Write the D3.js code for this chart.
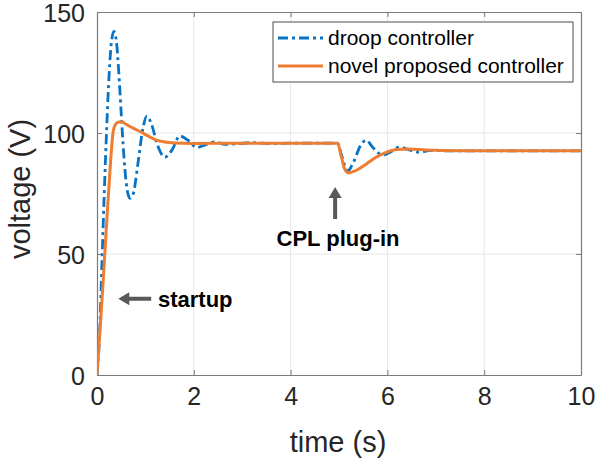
<!DOCTYPE html>
<html lang="en">
<head>
  <meta charset="UTF-8">
  <title>voltage vs time</title>
  <script src="https://d3js.org/d3.v7.min.js"></script>
  <style>
    html, body {
      margin: 0;
      padding: 0;
      background: #fff;
    }
    svg {
      display: block;
      font-family: "Liberation Sans", Arial, sans-serif;
    }
  </style>
</head>
<body>
  <div id="chart"></div>
  <script>
    // values
    var tDroop = [0, 0.05, 0.1, 0.15, 0.2, 0.25, 0.3, 0.35, 0.4, 0.45, 0.5, 0.55, 0.6, 0.68, 0.75, 0.85, 0.95, 1.03, 1.12, 1.25, 1.4, 1.55, 1.71, 1.88, 2.06, 2.25, 2.43, 2.65, 2.9, 3.2, 3.6, 4.0, 4.5, 4.97, 5.05, 5.18, 5.3, 5.45, 5.56, 5.7, 5.9, 6.05, 6.25, 6.45, 6.65, 6.9, 7.3, 8, 9, 10];
    var vDroop = [0, 15, 45, 75, 102, 124, 138, 142, 138, 125, 108, 92, 80, 73, 75, 88, 102, 107, 104, 95, 90, 93, 98.8, 97, 94, 95.2, 96.3, 95.3, 95.6, 96, 95.6, 95.8, 95.8, 95.8, 91, 84.3, 88, 95, 97, 94, 90.9, 92, 94.2, 93, 92.1, 92.8, 92.6, 92.6, 92.6, 92.6];

    var tNovel = [0, 0.1, 0.2, 0.28, 0.33, 0.38, 0.45, 0.52, 0.6, 0.75, 0.9, 1.05, 1.2, 1.4, 1.6, 2.0, 3.0, 4.0, 4.97, 5.05, 5.12, 5.2, 5.35, 5.55, 5.75, 5.95, 6.2, 6.45, 6.8, 7.5, 8.5, 10];
    var vNovel = [0, 30, 63, 88, 100, 103.5, 104.5, 104.5, 103.6, 102, 100.5, 98.8, 97.3, 96.3, 95.9, 95.7, 95.8, 95.8, 95.8, 90, 85, 83.5, 84.5, 87, 89.8, 91.8, 93.2, 93.4, 93, 92.7, 92.7, 92.7];

    var xTicks = [0, 2, 4, 6, 8, 10];
    var yTicks = [0, 50, 100, 150];
    var seriesNames = ["droop controller", "novel proposed controller"];

    var width = 597,
        height = 459,
        margin = { top: 12, right: 16, bottom: 84, left: 97 },
        blue = "#0872C4",
        orange = "#ED7D31",
        axisColor = "#262626",
        arrowColor = "#595959",
        dash = "10,4,3,4";

    var w = width - margin.left - margin.right,
        h = height - margin.top - margin.bottom;

    var x = d3.scaleLinear().domain([0, 10]).range([0, w]);
    var y = d3.scaleLinear().domain([0, 150]).range([h, 0]);

    var svg = d3.select("#chart").append("svg")
      .attr("width", width)
      .attr("height", height);

    var g = svg.append("g")
      .attr("transform", "translate(" + margin.left + "," + margin.top + ")");

    g.append("clipPath").attr("id", "clip")
      .append("rect").attr("width", w).attr("height", h);

    // grid
    g.selectAll(".gx").data(xTicks.slice(1, -1)).enter().append("line")
      .attr("x1", x).attr("x2", x).attr("y1", 0).attr("y2", h)
      .attr("stroke", "#e6e6e6").attr("stroke-width", 1);
    g.selectAll(".gy").data(yTicks.slice(1, -1)).enter().append("line")
      .attr("y1", y).attr("y2", y).attr("x1", 0).attr("x2", w)
      .attr("stroke", "#e6e6e6").attr("stroke-width", 1);

    // axes (ticks inside, like matlab)
    var xAxis = g.append("g").attr("transform", "translate(0," + h + ")")
      .call(d3.axisBottom(x).tickValues(xTicks).tickSizeInner(-5).tickSizeOuter(0).tickPadding(12));
    var xTop = g.append("g")
      .call(d3.axisTop(x).tickValues(xTicks).tickSizeInner(-5).tickSizeOuter(0).tickFormat(""));
    var yAxis = g.append("g")
      .call(d3.axisLeft(y).tickValues(yTicks).tickSizeInner(-5).tickSizeOuter(0).tickPadding(12));
    var yRight = g.append("g").attr("transform", "translate(" + w + ",0)")
      .call(d3.axisRight(y).tickValues(yTicks).tickSizeInner(-5).tickSizeOuter(0).tickFormat(""));

    [xAxis, xTop, yAxis, yRight].forEach(function(a) {
      a.select(".domain").attr("stroke", "#7a7a7a").attr("stroke-width", 1.2);
      a.selectAll(".tick line").attr("stroke", "#7a7a7a");
      a.selectAll("text").attr("fill", axisColor).style("font-size", "25px")
        .style("font-family", "'Liberation Sans', Arial, sans-serif");
    });
    yAxis.selectAll("text").attr("dy", "0.36em");

    // lines
    var droopData = tDroop.map(function(t, i) { return [t, vDroop[i]]; });
    var novelData = tNovel.map(function(t, i) { return [t, vNovel[i]]; });

    var line = d3.line()
      .x(function(d) { return x(d[0]); })
      .y(function(d) { return y(d[1]); })
      .curve(d3.curveMonotoneX);

    var plot = g.append("g").attr("clip-path", "url(#clip)");
    plot.append("path").datum(droopData)
      .attr("d", line)
      .attr("fill", "none")
      .attr("stroke", blue)
      .attr("stroke-width", 2.8)
      .attr("stroke-dasharray", dash);
    plot.append("path").datum(novelData)
      .attr("d", line)
      .attr("fill", "none")
      .attr("stroke", orange)
      .attr("stroke-width", 3)
      .attr("stroke-linejoin", "round");

    // axis labels
    svg.append("text")
      .attr("x", margin.left + w / 2 - 1)
      .attr("y", 452)
      .attr("text-anchor", "middle")
      .attr("fill", axisColor)
      .style("font-size", "29px")
      .text("time (s)");
    svg.append("text")
      .attr("transform", "translate(30," + 189 + ") rotate(-90)")
      .attr("text-anchor", "middle")
      .attr("fill", axisColor)
      .style("font-size", "29px")
      .text("voltage (V)");

    // legend
    var legend = svg.append("g").attr("transform", "translate(273,22)");
    legend.append("rect")
      .attr("width", 300).attr("height", 60)
      .attr("fill", "#fff").attr("stroke", "#4d4d4d").attr("stroke-width", 1);
    var items = legend.selectAll(".item").data(seriesNames).enter().append("g")
      .attr("transform", function(d, i) { return "translate(0," + (16 + i * 28) + ")"; });
    items.append("line")
      .attr("x1", 5).attr("x2", 50)
      .attr("stroke", function(d, i) { return i === 0 ? blue : orange; })
      .attr("stroke-width", function(d, i) { return i === 0 ? 2.8 : 3; })
      .attr("stroke-dasharray", function(d, i) { return i === 0 ? dash : null; });
    items.append("text")
      .attr("x", 55).attr("dy", "0.35em")
      .attr("fill", "#000")
      .style("font-size", "21px")
      .text(function(d) { return d; });

    // annotations
    function arrow(x1, y1, x2, y2) {
      var ang = Math.atan2(y2 - y1, x2 - x1),
          len = Math.hypot(x2 - x1, y2 - y1),
          head = 11, hw = 6.5, sw = 2;
      var pts = [[0, -sw], [len - head, -sw], [len - head, -hw], [len, 0], [len - head, hw], [len - head, sw], [0, sw]];
      g.append("polygon")
        .attr("points", pts.map(function(p) { return p.join(","); }).join(" "))
        .attr("transform", "translate(" + x1 + "," + y1 + ") rotate(" + (ang * 180 / Math.PI) + ")")
        .attr("fill", arrowColor);
    }
    arrow(x(1.12), y(31.5), x(0.44), y(31.5));
    arrow(x(4.92), y(64.5), x(4.92), y(77.7));

    g.append("text")
      .attr("x", x(1.26)).attr("y", y(28))
      .attr("font-weight", "bold").attr("fill", "#000")
      .style("font-size", "22px")
      .text("startup");
    g.append("text")
      .attr("x", x(4.98)).attr("y", y(53.5))
      .attr("text-anchor", "middle")
      .attr("font-weight", "bold").attr("fill", "#000")
      .style("font-size", "22px")
      .text("CPL plug-in");
  </script>
</body>
</html>
